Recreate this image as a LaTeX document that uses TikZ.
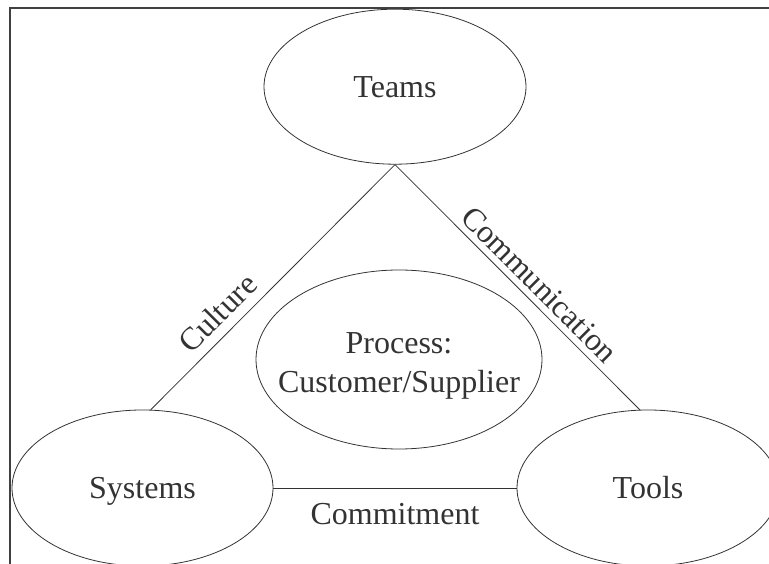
\documentclass[tikz,border=0pt]{standalone}
\usepackage{fontspec}
\setmainfont{Liberation Serif}
\usetikzlibrary{shapes.geometric, positioning}

\begin{document}
\begin{tikzpicture}[x=1pt, y=1pt, font=\fontsize{32}{39}\selectfont,
    bubble/.style={draw, ellipse, black!80, text=black!80, inner sep=0pt, line width=0.8pt, on grid},
    link/.style={black!80, line width=0.8pt},
    tag/.style={text=black!80},
    frame/.style={black!75, line width=1.6pt},
    ]

    \clip (0,0) rectangle (769,563);
    \draw[frame] (10,554.7) rectangle (800,-20);

    \node(teams)[bubble, minimum width=262pt, minimum height=155pt] at (395,476.3){Teams};
    \node(process)[bubble, below=272.8pt of teams, xshift=4pt, inner xsep=-20pt, text height=72pt, minimum width=286pt, minimum height=179pt, align=center]{Process:\\Customer/Supplier};
    \node(systems)[bubble, below left=401.3pt and 252.5pt of teams, text depth=0pt, minimum width=261pt, minimum height=156pt]{Systems};
    \node(tools)[bubble, below right=401.3pt and 253pt of teams, minimum width=262pt, minimum height=156pt]{Tools};

    \draw[link](systems.84) -- (teams.south) node[tag, sloped, above=6pt, pos=0.334]{Culture};
    \draw[link](teams.south) -- (tools.96) node[tag, sloped, above=3pt, pos=0.54]{Communication};
    \draw[link](systems.east) -- (tools.west) node[tag, below=12pt, pos=0.5]{Commitment};

\end{tikzpicture}
\end{document}
